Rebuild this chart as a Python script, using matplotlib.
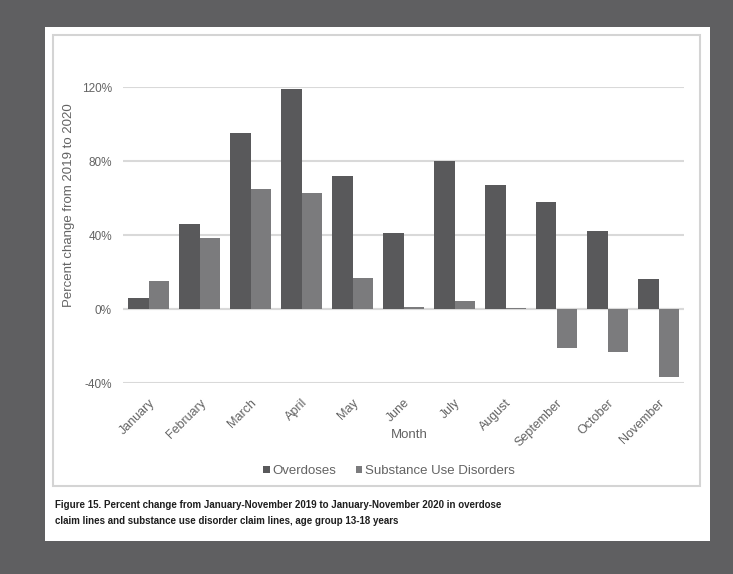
import matplotlib
matplotlib.use('Agg')
import matplotlib.pyplot as plt
from matplotlib.patches import Rectangle
import numpy as np

months = ['January', 'February', 'March', 'April', 'May', 'June', 'July',
          'August', 'September', 'October', 'November']
overdoses = [6, 46, 95, 119, 72, 41, 80, 67, 58, 42, 16]
sud = [15, 38.5, 64.7, 62.7, 17, 1, 4.5, 0.3, -21, -23, -37]
y_ticks = [-40, 0, 40, 80, 120]
caption = ('Figure 15. Percent change from January-November 2019 to January-November 2020 in overdose\n'
           'claim lines and substance use disorder claim lines, age group 13-18 years')

plt.rcParams['font.family'] = ['Liberation Sans', 'DejaVu Sans']

W, H = 733, 574
fig = plt.figure(figsize=(W / 100, H / 100), dpi=100, facecolor='#5f5f61')

# white page and chart frame, behind the axes
fig.patches.append(Rectangle((45 / W, 1 - 541 / H), 665 / W, 514 / H,
                             transform=fig.transFigure, facecolor='white',
                             edgecolor='none', zorder=-2))
fig.patches.append(Rectangle((53 / W, 1 - 486 / H), 647 / W, 451 / H,
                             transform=fig.transFigure, facecolor='white',
                             edgecolor='#d4d4d4', linewidth=1.5, zorder=-1))

ax = fig.add_axes([123 / W, 1 - 383 / H, 561 / W, 296 / H])
ax.set_facecolor('none')

x = np.arange(len(months))
ax.bar(x - 0.2, overdoses, width=0.4, color='#59595b', label='Overdoses', zorder=3)
ax.bar(x + 0.2, sud, width=0.4, color='#7b7b7d', label='Substance Use Disorders', zorder=3)

ax.set_xlim(-0.5, len(months) - 0.5)
ax.set_ylim(-40, 120)
ax.set_yticks(y_ticks)
ax.set_yticklabels(['%d%%' % t for t in y_ticks])
ax.yaxis.grid(True, color='#d9d9d9', linewidth=1.5, zorder=0)
ax.axhline(0, color='#d9d9d9', linewidth=1.5, zorder=1)
for s in ax.spines.values():
    s.set_visible(False)
ax.tick_params(axis='both', length=0, colors='#636363', labelsize=8.5)
ax.tick_params(axis='y', pad=8)
ax.set_xticks(x)
ax.set_xticklabels(months, rotation=45, ha='right', rotation_mode='anchor')
ax.tick_params(axis='x', pad=10, labelsize=9)

ax.set_xlabel('Month', fontsize=9.5, color='#636363')
ax.xaxis.set_label_coords(0.51, -0.155)
ax.set_ylabel('Percent change from 2019 to 2020', fontsize=9.5, color='#636363')
ax.yaxis.set_label_coords(-0.085, 0.60)

fig.legend(loc='center', bbox_to_anchor=(389 / W, 1 - 471 / H), ncol=2,
           frameon=False, fontsize=9.5, labelcolor='#636363',
           handlelength=0.5, handleheight=0.5, handletextpad=0.2, columnspacing=1.5)

fig.text(55 / W, 1 - 500 / H, caption, fontsize=7, fontweight='bold',
         color='#1e1e1e', va='top', ha='left', linespacing=1.8)

fig.savefig('out.png', dpi=100, facecolor=fig.get_facecolor())
